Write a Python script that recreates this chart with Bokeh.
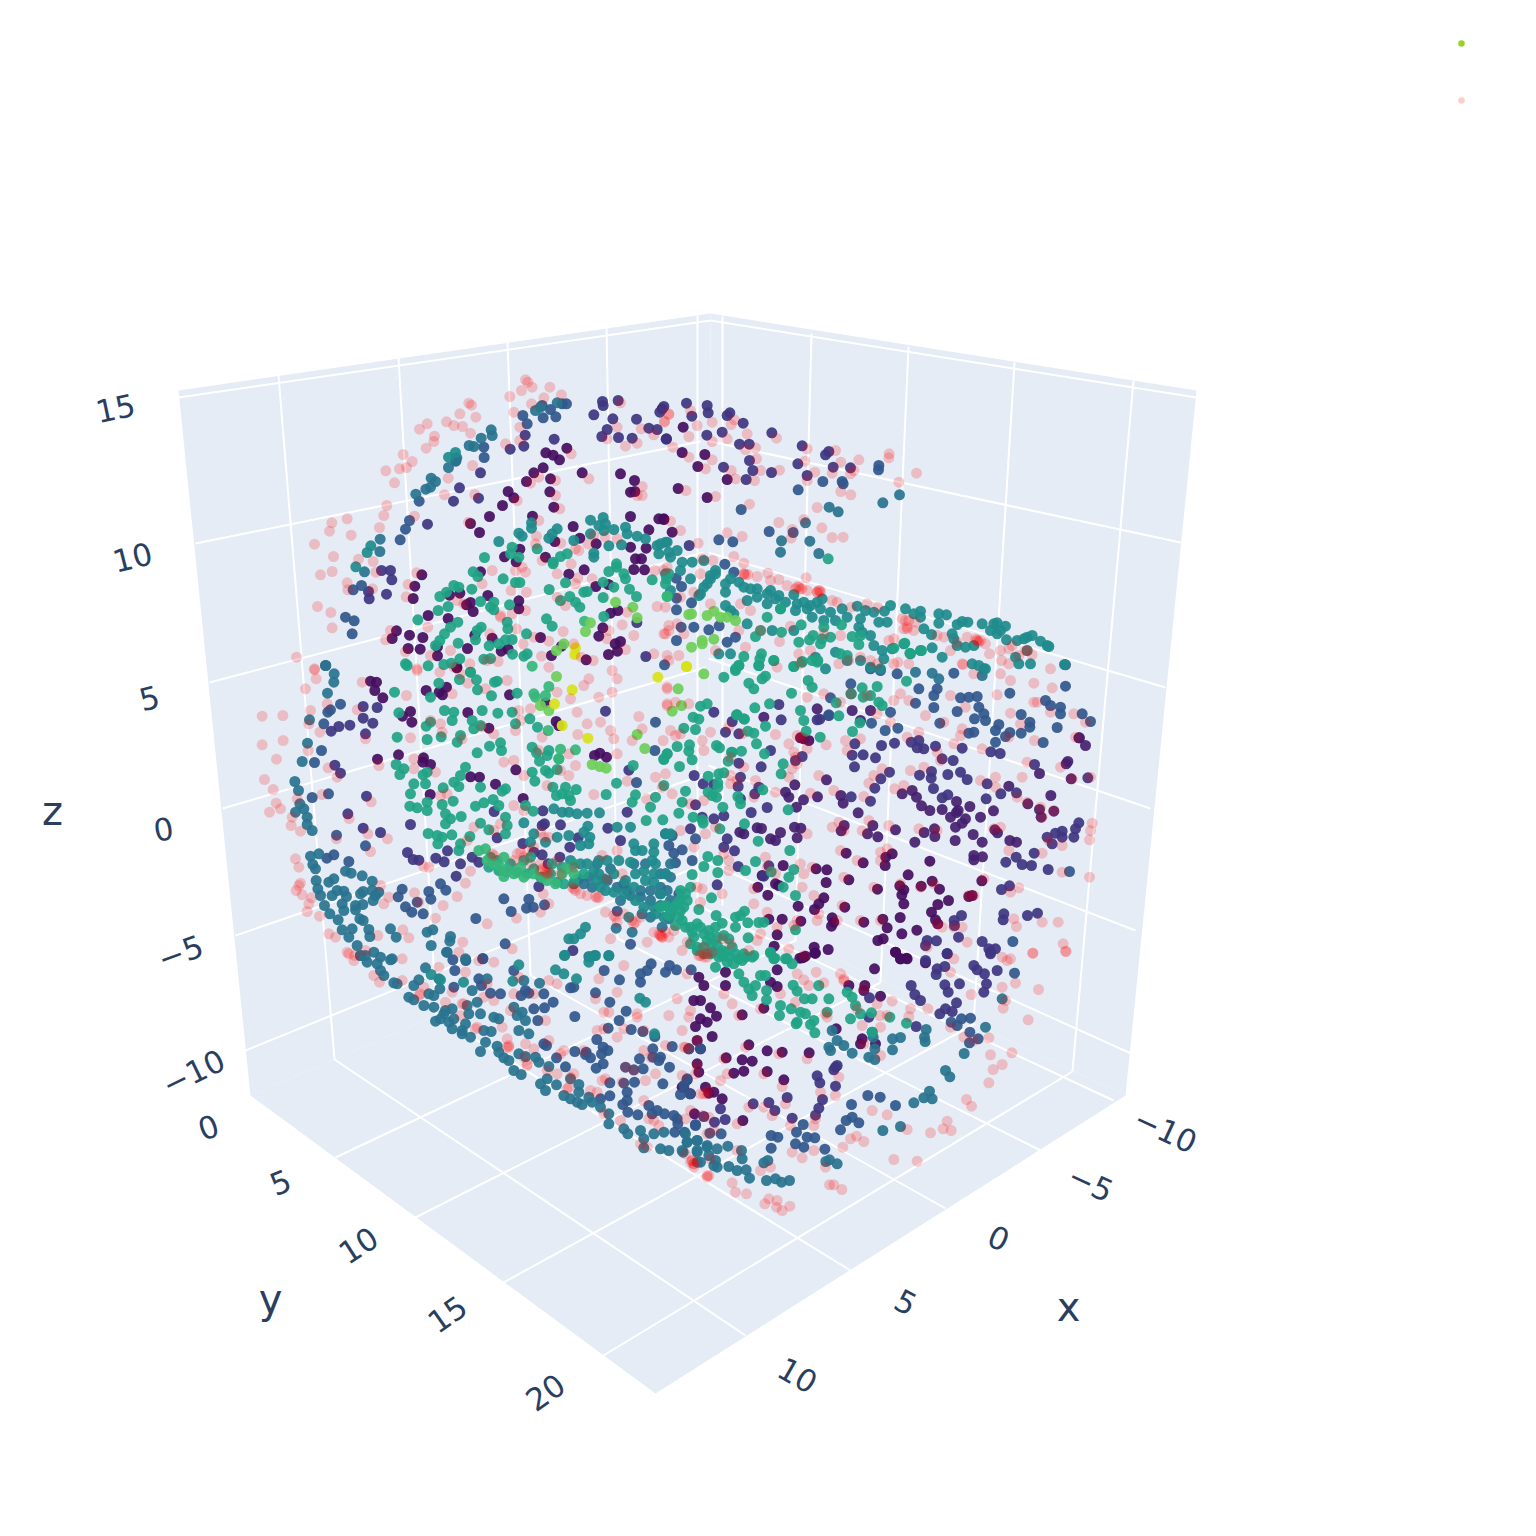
from bokeh.plotting import figure
from bokeh.embed import file_html
from bokeh.resources import INLINE
from bokeh.core.properties import value
import math

# Readings from the picture, per crop, at 3x crop scale
ORIGIN_A = (240, 370); ORIGIN_B = (660, 370); ORIGIN_C = (240, 660)
ORIGIN_D = (660, 660); ORIGIN_E = (280, 950); ORIGIN_F = (680, 950)

pink_a = [(855,28),(862,35),(875,50),(843,60),(928,50),(963,73),(808,78),(910,82),(685,98),(693,104),(658,130),(706,140),(618,154),(560,160),(537,176),(640,165),(666,168),(690,188),(582,197),(580,213),(557,233),(795,220),(838,210),(873,100),(820,125),(838,170),(488,252),(515,273),(498,291),(477,295),(436,301),(462,337),(696,285),(623,323),(612,373),(703,372),(439,405),(430,435),(320,445),(274,457),(267,482),(332,494),(222,521),(417,471),(522,437),(279,558),(354,566),(398,573),(275,603),(240,613),(406,605),(320,637),(322,658),(396,655),(231,708),(271,726),(275,772),(168,860),(222,895),(528,607),(503,642),(497,679),(1045,325),(992,250),(1205,348),(1190,375),(1205,375),(945,375),(958,415),(895,450),(945,330),(895,320),(870,338),(830,390),(1155,227),(1190,218),(1100,205),(1130,170),(1202,175),(1240,193),(1272,152),(1285,130),(1140,97),(684,455),(888,497),(885,520),(961,518),(992,580),(1005,535),(1015,540),(1043,520),(1060,495),(1130,505),(1095,500),(905,570),(855,605),(825,600),(845,590),(755,600),(950,610),(1012,622),(1243,600),(1270,600),(1280,590),(725,640),(812,660),(858,665),(950,680),(975,705),(1055,625),(1005,640),(1250,708),(1160,725),(650,690),(670,700),(780,735),(815,730),(855,720),(748,790),(780,740),(828,775),(968,783),(925,812),(880,800),(1145,763),(1180,795),(1105,780),(1100,805),(1155,837),(1240,850),(1275,790),(1285,780),(435,808),(450,780),(562,770),(495,843),(570,855),(630,840),(688,880),(740,870),(773,873),(848,820),(903,857),(925,890),(1000,820),(1058,870),(1022,860),(530,895),(1115,900)]
pink_b = [(25,132),(12,155),(110,165),(155,155),(90,120),(85,198),(155,213),(200,205),(222,148),(212,162),(260,190),(255,237),(285,232),(37,230),(85,260),(155,268),(135,295),(212,300),(225,325),(282,330),(300,300),(288,265),(357,299),(348,203),(440,235),(433,272),(463,305),(440,330),(515,308),(541,275),(595,268),(525,240),(580,300),(570,310),(686,250),(685,262),(715,335),(768,308),(571,373),(541,363),(76,360),(165,378),(267,401),(355,456),(430,447),(395,477),(392,503),(470,411),(484,472),(515,501),(548,500),(200,487),(245,498),(113,518),(60,480),(30,452),(220,558),(250,578),(437,622),(125,565),(157,570),(250,610),(262,612),(290,618),(322,608),(330,630),(355,627),(380,645),(405,655),(425,655),(440,660),(470,665),(478,660),(515,690),(530,695),(572,710),(620,700),(652,710),(725,745),(745,750),(765,755),(730,775),(760,780),(700,805),(685,810),(920,800),(950,810),(960,810),(975,820),(1020,840),(1045,835),(1055,825),(1095,840),(1115,853),(987,850),(908,882),(1023,870),(1045,880),(1075,855),(1170,895),(890,815),(870,840),(850,800),(830,795),(745,880),(712,875),(630,870),(600,860),(540,795),(490,790),(390,767),(357,813),(415,850),(450,840),(420,880),(350,890),(565,870),(25,765),(10,790),(50,760),(70,790),(20,855),(55,855),(25,870),(165,840),(235,780),(255,830),(300,780),(120,610),(60,680),(15,710),(100,665),(150,700),(240,700),(270,720),(415,650),(420,655),(410,648),(475,660),(470,665),(480,665),(250,610),(255,612),(950,810),(955,815),(945,805),(735,750),(740,775),(740,770),(1100,840)]
pink_c = [(65,167),(127,165),(65,253),(128,240),(108,296),(72,357),(98,387),(107,428),(87,455),(120,445),(152,495),(180,512),(155,470),(170,415),(195,85),(227,55),(222,28),(210,150),(260,130),(238,215),(205,190),(203,270),(263,322),(290,350),(245,402),(392,424),(326,474),(382,520),(288,535),(441,535),(390,573),(365,65),(350,148),(375,235),(415,315),(498,105),(510,232),(530,30),(598,35),(640,20),(682,68),(735,85),(800,60),(660,40),(600,190),(605,215),(635,100),(725,200),(665,235),(570,180),(520,295),(520,325),(585,335),(600,405),(620,400),(760,220),(790,305),(820,300),(850,345),(905,230),(895,270),(960,330),(1005,315),(1012,222),(985,280),(1040,190),(1080,185),(1010,155),(950,95),(990,115),(1030,75),(1045,55),(1075,110),(1115,95),(1130,55),(1280,85),(1280,135),(1195,168),(1205,205),(1120,235),(1110,210),(1175,240),(1130,280),(1160,362),(1060,402),(1218,415),(1245,350),(1275,340),(825,210),(835,150),(870,145),(840,180),(920,375),(985,345),(900,515),(925,530),(820,435),(850,450),(1110,835),(1220,845),(1130,785),(1130,570),(1145,640),(1085,585),(1095,755),(1100,655),(165,595),(175,620),(180,668),(167,690),(185,703),(213,712),(205,730),(200,753),(237,767),(175,675),(265,820),(285,830),(320,875),(343,885),(375,870),(412,825),(420,675),(445,710),(430,730),(522,697),(550,618),(565,620),(650,708),(608,735),(535,725),(585,773),(487,808),(505,832),(667,845),(675,668),(690,632),(740,790),(828,773),(815,865),(900,755),(925,730),(908,700),(1020,700),(1040,705),(1075,710),(1125,770),(1150,760),(1180,790),(1200,770),(1000,685),(1260,825),(1240,815),(950,600),(920,640),(900,610),(1000,620),(680,540),(700,500),(760,510),(780,490),(830,580),(860,570),(880,560),(910,530),(905,625),(915,635),(900,630),(925,635),(1005,690),(995,680),(1065,708),(1070,712),(1120,765),(1175,780),(1185,785),(1255,820),(1265,830),(755,580),(760,585),(840,575),(850,590),(960,640),(920,620),(870,610),(820,600)]
pink_d = [(20,80),(45,125),(20,130),(85,130),(30,210),(45,225),(8,240),(125,240),(130,270),(60,220),(150,215),(205,200),(245,220),(345,222),(410,225),(385,250),(497,253),(440,265),(400,275),(405,290),(410,310),(395,325),(385,350),(345,395),(280,410),(285,360),(210,370),(210,345),(250,320),(210,290),(230,360),(475,345),(450,398),(520,390),(610,408),(640,345),(625,368),(665,325),(750,330),(702,385),(730,375),(790,320),(840,300),(880,250),(830,275),(965,265),(900,225),(740,230),(775,215),(690,185),(795,165),(850,185),(915,140),(870,105),(905,205),(1010,103),(1050,158),(1050,60),(1120,68),(1175,82),(1120,125),(1130,125),(1170,155),(1240,160),(1275,185),(1080,190),(1045,230),(1122,240),(1245,230),(1100,305),(1085,350),(1005,350),(1070,410),(960,360),(1005,380),(1100,425),(1180,450),(1140,440),(1145,470),(1295,488),(1290,510),(1287,538),(1205,555),(1290,350),(1235,355),(1200,320),(1000,505),(1020,500),(1045,570),(1145,578),(1165,540),(1205,635),(1287,650),(1050,695),(1075,682),(1060,775),(1068,798),(1145,785),(1193,785),(920,845),(1208,850),(1215,872),(1117,878),(1025,890),(1050,895),(970,655),(925,705),(940,705),(880,800),(905,800),(800,860),(845,800),(830,790),(820,670),(780,680),(720,670),(640,680),(550,650),(455,620),(460,705),(475,760),(470,780),(410,780),(400,795),(385,865),(430,885),(530,780),(600,780),(660,780),(545,735),(590,600),(540,570),(625,480),(605,510),(685,495),(775,505),(830,510),(660,575),(680,565),(660,600),(550,510),(515,500),(535,485),(420,610),(430,640),(425,680),(315,590),(320,620),(345,640),(280,685),(205,630),(205,600),(110,680),(125,685),(185,700),(280,730),(320,755),(300,820),(290,840),(350,800),(265,870),(185,835),(120,725),(80,845),(40,810),(25,830),(65,870),(0,825),(100,560),(190,580),(165,500),(135,520),(60,510),(90,430),(35,400),(5,380),(130,420),(440,520),(440,110),(490,100),(540,125),(570,100),(620,105),(650,160),(700,120),(720,100),(745,120),(650,10),(700,10),(905,10),(1020,40),(940,40),(535,10),(560,270),(555,240),(600,235),(5,830),(15,815),(130,890),(140,880),(155,875),(115,885),(210,850),(130,860),(430,235),(420,230)]
pink_e = [(205,10),(220,30),(365,25),(280,75),(297,95),(365,90),(475,50),(430,110),(515,125),(415,135),(555,65),(535,5),(595,30),(640,35),(495,155),(550,160),(610,140),(640,150),(620,100),(540,195),(590,230),(665,230),(680,265),(690,180),(700,130),(715,80),(805,90),(830,100),(760,130),(795,210),(805,270),(760,295),(840,310),(740,340),(680,290),(730,320),(880,370),(930,420),(950,425),(850,300),(910,300),(1010,125),(955,85),(1030,45),(970,185),(985,185),(945,145),(1010,260),(970,235),(1030,235),(1070,190),(1090,240),(950,240),(1125,370),(1095,390),(1035,350),(1025,395),(1190,145),(1165,195),(1155,285),(1210,290),(1205,375),(1285,420),(1245,370),(1090,450),(1120,510),(1105,505),(1135,525),(1080,580),(1100,590),(1215,610),(1240,650),(1280,675),(1290,625),(1020,510),(970,490),(965,390),(975,385),(870,380),(830,370),(800,360),(1250,270),(1225,200),(1205,240),(1110,320),(1060,360),(1090,300),(585,235),(685,290),(740,345),(1240,640),(860,415),(1070,200),(1225,295),(1285,500),(420,130),(685,285),(735,280),(865,410),(1235,630),(545,160)]
pink_f = [(20,70),(130,130),(155,160),(30,180),(240,175),(175,195),(15,290),(130,325),(195,290),(295,310),(380,325),(250,370),(140,370),(305,408),(80,430),(70,430),(205,470),(315,460),(250,470),(275,495),(170,520),(330,525),(400,525),(335,605),(365,622),(400,600),(435,650),(270,650),(240,660),(85,675),(155,697),(165,725),(198,730),(253,760),(265,745),(290,750),(288,770),(305,780),(328,767),(447,703),(460,703),(484,717),(575,480),(620,493),(510,565),(528,557),(550,573),(487,590),(640,627),(710,632),(680,537),(750,547),(788,535),(812,540),(800,512),(858,447),(873,467),(925,397),(938,357),(965,342),(994,307),(930,313),(925,262),(880,270),(850,260),(1043,208),(968,173),(975,150),(1074,117),(1005,98),(965,110),(872,132),(742,175),(690,175),(685,198),(598,195),(635,152),(620,195),(600,230),(545,225),(600,315),(480,70),(490,90),(407,65),(350,70),(370,88),(430,97),(385,105),(300,130),(810,65),(820,25),(980,30),(1057,8),(1157,3),(810,230),(530,175),(590,160),(550,280),(465,435),(475,380),(420,425),(405,505),(40,640),(35,630),(80,680),(30,480),(65,495),(100,540),(80,550),(170,600),(50,345),(15,505),(60,430),(120,390),(80,20),(60,15),(345,155),(435,190),(440,200),(490,85),(550,115),(30,635)]

dark_a = [(1025,307),(1140,310),(1182,330),(1170,365),(1183,363),(940,410),(928,364),(930,325),(908,292),(880,307),(858,333),(803,363),(820,382),(786,405),(747,438),(876,437),(690,459),(717,486),(957,268),(938,254),(916,247),(979,233),(1170,438),(1255,445),(1270,447),(1225,478),(998,468),(943,513),(1018,503),(1067,520),(1170,530),(1217,533),(1185,565),(1203,565),(1180,597),(1212,598),(1031,598),(985,611),(915,560),(838,536),(792,559),(827,574),(720,604),(544,613),(523,647),(518,684),(1066,648),(1104,642),(835,691),(835,715),(742,675),(658,668),(627,674),(690,696),(678,703),(698,723),(563,735),(623,744),(468,781),(455,804),(507,794),(547,801),(503,834),(539,836),(591,829),(591,856),(703,794),(755,803),(681,834),(782,842),(803,836),(900,801),(963,827),(933,855),(1037,868),(649,890),(1132,720),(1110,728),(1087,772),(1075,797),(1124,820),(1140,813),(1131,842),(1104,852)]
dark_b = [(53,354),(140,381),(65,246),(18,205),(10,445),(35,485),(200,327),(133,252),(112,288),(68,170),(5,115)]
dark_c = [(390,62),(408,65),(403,90),(427,112),(557,90),(596,95),(618,80),(606,103),(649,22),(807,103),(915,127),(947,183),(955,195),(682,156),(745,203),(510,153),(486,167),(514,185),(549,292),(547,305),(570,312),(690,349),(717,350),(765,371),(826,328),(411,296),(474,283),(569,402),(848,414),(1078,278),(1062,285),(1098,290)]
dark_d = [(467,625),(499,628),(497,666),(565,658),(651,686),(674,615),(695,580),(676,590),(557,578),(608,607),(808,602),(743,643),(718,676),(730,688),(724,703),(730,730),(815,662),(837,686),(864,720),(832,732),(813,755),(782,677),(964,661),(935,705),(925,708),(667,776),(719,771),(680,802),(610,785),(724,820),(769,809),(668,835),(652,840),(705,875),(720,895),(738,893),(825,778),(832,790),(515,772),(520,785),(513,797),(553,740),(490,712),(475,730),(462,747),(413,737),(421,782),(503,867),(461,860),(463,878),(430,890),(418,893),(368,615),(345,670),(355,675),(365,776),(325,776),(350,823),(341,857),(322,704),(292,680),(305,645),(430,235),(445,240),(420,232)]
dark_f = [(582,55),(735,37),(660,25),(680,25),(645,5),(800,10),(375,17),(365,22),(405,8),(290,58),(290,108),(270,95),(505,105),(553,105),(550,120),(467,235),(545,265),(540,280),(585,280),(600,137),(250,173),(185,193),(135,105),(70,105),(55,80),(135,65),(40,150),(60,150),(90,172),(108,197),(60,205),(80,215),(45,228),(50,270),(95,258),(205,283),(25,295),(60,295),(260,301),(305,305),(386,307),(137,322),(185,328),(215,332),(50,340),(55,365),(160,368),(190,362),(260,363),(20,388),(10,410),(75,410),(100,425),(85,428),(30,430),(125,445),(310,388),(5,410),(187,510),(42,490)]

purple_d = [(498,358),(541,405),(548,428),(593,457),(471,409),(429,418),(403,373),(385,410),(375,395),(408,440),(290,502),(303,504),(250,520),(238,515),(360,516),(345,540),(330,535),(410,532),(421,503),(402,500),(551,495),(542,511),(637,495),(705,508),(621,520),(652,529),(763,545),(791,516),(822,505),(823,528),(884,540),(938,522),(965,545),(940,585),(940,598),(966,589),(1048,540),(1068,545),(1003,508),(1011,517),(885,500),(905,488),(915,475),(870,470),(888,456),(893,450),(808,450),(845,447),(783,436),(755,390),(768,410),(725,400),(888,423),(928,438),(960,470),(999,451),(1102,430),(1137,447),(1142,470),(1180,452),(1171,405),(1045,377),(1217,310),(1222,303),(1232,355),(1137,339),(1257,232),(1275,255),(1255,232),(600,180),(575,150),(630,150),(470,145),(310,170)]

indigo_a = [(1086,93),(1088,105),(1133,90),(1060,133),(1117,145),(1188,146),(1100,177),(1084,198),(1134,201),(1175,203),(1225,173),(1250,177),(1277,206),(1270,108),(1258,125),(850,227),(809,236),(854,194),(941,206),(720,307),(657,352),(714,383),(639,392),(561,461),(454,628),(450,600),(423,600),(438,671),(386,685),(384,663),(1216,858),(1189,756)]
indigo_b = [(78,98),(140,105),(143,127),(94,137),(200,135),(208,127),(248,158),(139,194),(185,185),(237,221),(266,221),(189,290),(267,270),(277,300),(257,327),(334,187),(333,306),(425,226),(412,280),(440,315),(495,253),(505,243),(518,290),(570,292),(86,525)]
indigo_c = [(368,138),(410,141),(368,173),(397,188),(375,220),(328,194),(295,198),(272,212),(283,314),(300,338),(378,407),(322,460),(368,503),(420,516),(510,492),(761,453),(907,451),(960,493),(905,495),(912,490),(770,532),(847,549),(621,571),(501,576),(518,597),(535,599),(586,593),(611,604),(660,610),(647,647),(695,590),(715,605),(798,634),(880,575),(905,583),(923,610),(958,590),(1013,532),(988,560),(895,678),(1102,503),(1160,455),(1095,152),(1140,540),(1165,329),(997,870)]
indigo_d = [(1122,312),(1068,397),(1021,400),(977,415),(980,370),(920,357),(862,342),(813,333),(812,353),(777,344),(819,384),(845,412),(862,403),(900,335),(878,300),(845,295),(905,263),(790,265),(825,257),(775,240),(770,262),(752,245),(687,335),(661,355),(643,383),(630,422),(572,409),(645,292),(608,283),(575,284),(582,319),(583,250),(663,255),(702,248),(240,350),(233,378),(295,380),(283,400),(240,415),(320,441),(272,456),(190,466),(160,475),(125,470),(105,433),(160,155),(215,183),(235,220),(195,215),(90,505),(200,535),(190,560),(222,571),(233,618),(310,647),(325,616),(170,673),(101,345),(128,370),(160,372),(425,288),(405,300),(302,319),(235,308),(330,270),(362,178),(355,132),(470,178),(478,176),(505,165),(1036,605),(1067,590),(1085,612),(1113,615),(1121,578),(1175,550),(1160,530),(1185,518),(1205,512),(1205,530),(1240,530),(1245,505),(1255,487),(1163,627),(1023,687),(1047,676),(1030,760),(1028,778),(1101,765),(1131,758),(903,765),(881,780),(882,795),(894,830),(965,843),(985,865),(1005,865),(990,880),(860,879),(795,900),(800,840),(795,855),(828,841),(1282,352),(991,274),(1019,279)]
indigo_f = [(767,72),(770,55),(793,48),(692,105),(703,132),(720,150),(793,103),(803,125),(837,100),(778,190),(795,175),(815,183),(828,157),(707,228),(567,142),(465,350),(460,358),(470,345),(410,376),(418,397),(465,407),(426,447),(415,473),(405,494),(320,441),(218,460),(265,456),(283,480),(335,503),(120,475),(102,515),(134,507),(70,498),(880,45),(890,58),(912,70),(950,60),(930,5),(918,100),(910,125),(565,200)]

blue_a = [(860,160),(847,135),(908,142),(946,139),(905,105),(978,100),(965,100),(930,117),(730,230),(731,261),(646,272),(536,392),(507,450),(495,476),(479,508),(363,645),(341,751),(335,790),(315,740),(338,658),(1272,883),(255,885)]
blue_b = [(413,358),(487,333),(545,333),(548,340),(655,285),(654,298),(242,417),(175,508),(217,514),(326,483),(398,486),(193,581),(220,605),(47,623),(63,648),(48,683),(93,697),(48,718),(62,770),(100,770),(145,778),(176,766),(48,810),(225,800),(200,815)]
blue_c = [(300,131),(270,148),(262,155),(250,190),(264,400),(215,411),(288,524),(375,556),(243,270),(222,306),(325,603),(280,583),(259,593),(600,670),(616,689),(565,693),(571,716),(530,725),(485,686),(473,709),(495,739),(514,755),(548,760),(706,774),(790,715),(812,753),(865,716),(858,743),(878,740),(912,733),(794,850),(727,895),(1130,752),(1170,851),(1245,185),(1243,270),(1188,366)]
blue_d = [(1215,13),(1215,77),(1155,120),(1170,135),(1200,140),(1200,160),(1265,160),(1290,183),(1190,201),(1108,185),(1108,200),(1082,162),(1082,218),(1148,246),(1048,216),(1035,228),(1015,192),(1005,210),(1005,245),(1048,98),(950,108),(900,112),(925,110),(955,140),(970,160),(975,180),(942,175),(890,153),(820,141),(838,188),(765,128),(820,105),(830,85),(775,85),(710,40),(660,30),(630,25),(880,38),(940,215),(925,218),(712,203),(674,210),(633,188),(690,155),(505,163),(510,112),(571,70),(572,100),(1057,843),(1227,633),(0,700),(15,640),(45,607),(95,600),(65,568),(105,535),(15,520),(35,525),(25,555),(40,578),(55,700)]
blue_e = [(500,5),(517,28),(556,30),(607,24),(523,60),(700,60),(595,85),(603,105),(520,110),(630,128),(660,130),(735,120),(745,128),(722,135),(818,155),(790,130),(792,172),(760,175),(772,210),(880,110),(870,112),(945,127),(988,155),(883,198),(1017,88),(971,60),(1080,70),(1100,60),(1112,40),(1080,95),(1155,65),(1167,45),(1188,58),(1232,58),(1037,182),(1016,210),(983,233),(1052,237),(1087,243),(1123,258),(1175,288),(1117,295),(1117,320),(1140,320),(1135,330),(1225,295),(1260,295),(949,267),(968,290),(982,300),(963,310),(917,305),(915,312),(883,303),(930,322),(968,340),(947,353),(855,349),(790,280),(798,285),(828,322),(1077,325),(1035,350),(1060,358),(1088,355),(1167,350),(1147,400),(1220,385),(1210,405),(1200,432),(1228,430),(1030,398),(1062,395),(1040,425),(1040,450),(1027,462),(1042,485),(1072,493),(988,397),(988,436),(960,445),(1105,465),(1115,490),(1130,480),(1152,490),(1180,495),(1192,520),(1190,505),(1212,545),(1245,522),(1183,545)]
blue_f = [(1002,68),(843,205),(870,203),(812,215),(830,225),(868,245),(893,265),(867,277),(562,435),(599,440),(513,462),(645,465),(535,517),(515,500),(497,510),(480,538),(368,522),(348,545),(380,560),(403,562),(345,580),(370,590),(272,555),(292,560),(272,593),(433,596),(45,525),(88,548),(122,550)]

deep_teal_a = [(950,97),(885,120),(900,110),(722,203),(700,228),(686,225),(755,195),(752,178),(649,262),(645,270),(624,291),(572,323),(585,333),(570,350),(556,356),(526,371),(419,506),(418,543),(372,604)]
deep_teal_b = [(506,410),(533,424),(435,457),(363,511),(448,512),(360,545),(475,549),(667,397),(717,373)]
deep_teal_c = [(256,15),(281,40),(280,65),(261,98),(207,178),(201,248),(185,303),(174,390),(163,363),(178,430),(190,445),(165,455),(200,470),(200,492),(215,510),(210,587),(235,580),(217,612),(225,625),(227,660),(232,685),(240,705),(252,735),(268,760),(293,778),(305,808),(335,805),(325,830),(350,855),(368,780),(358,775),(385,807),(388,828),(400,875),(375,885),(420,890),(455,895),(360,885),(265,665),(280,655),(290,690),(275,705),(310,692),(318,708),(305,730),(310,750),(345,735),(345,748),(367,732),(368,693),(360,700),(395,662),(395,690),(415,695),(405,705),(398,720),(315,632),(332,638),(365,646),(450,805),(467,830),(560,815),(577,808),(630,828),(628,842),(572,855),(618,875),(675,895),(1045,888),(1062,885),(1105,885),(1127,803),(1175,815),(1100,660),(1130,680),(1160,690),(1200,690),(1230,690),(1260,680),(1280,690),(1290,720),(1260,735),(1230,720),(1200,710),(1170,705),(1140,720),(1205,760),(1230,770),(1290,760),(1265,800),(1285,775),(1150,670),(1180,610),(1215,610),(1290,650),(1260,640),(1290,610),(1070,610),(1110,625),(1045,650),(1015,655),(1030,670),(1055,680),(1000,670)]
deep_teal_d = [(970,25),(965,45),(815,38),(835,55),(765,35)]
deep_teal_e = [(435,52),(400,105),(415,88),(385,140),(400,148),(430,165),(445,130),(460,135),(478,115),(475,85),(460,170),(495,180),(515,175),(480,205),(465,212),(505,215),(515,235),(545,250),(555,220),(570,260),(560,165),(565,190),(575,120),(590,155),(600,190),(610,240),(632,243),(640,200),(655,205),(545,240),(520,205),(490,190),(700,170),(710,195),(725,185),(735,210),(715,240),(745,250),(615,275),(600,303),(650,287),(655,305),(670,322),(685,330),(715,310),(735,318),(700,360),(722,372),(765,320),(775,335),(805,348),(780,400),(795,420),(800,385),(828,403),(850,435),(870,445),(890,455),(905,462),(935,455),(870,385),(895,402),(895,425),(925,440),(960,470),(985,520),(1030,535),(1042,550),(1080,540),(1090,565),(1090,592),(1120,550),(1150,545),(1140,595),(1165,600),(1205,600),(1220,575),(1250,570),(1250,600),(1280,585),(1285,615),(1250,635),(985,490),(240,15),(260,35),(290,40),(330,28),(300,60),(310,75),(340,97),(350,100),(620,85),(730,90),(777,98)]
deep_teal_f = [(851,309),(915,230),(965,145),(795,360),(808,379),(747,422),(730,442),(755,445),(700,457),(607,540),(737,237),(732,260),(734,273),(660,261),(636,265),(636,298),(450,300),(455,240),(470,270),(445,290),(490,285),(515,308),(583,295),(565,320),(583,327),(575,245),(578,260),(436,633),(447,628),(470,640),(250,637),(262,630),(183,600),(185,625),(145,648),(170,660),(197,658),(207,683),(258,690),(285,685),(303,695),(327,690),(105,630),(110,650),(80,590),(110,595),(50,570),(50,605),(142,587),(15,550),(20,575),(8,605),(60,635),(100,645),(660,528)]

teal_a = [(645,246),(624,260),(391,526),(380,546),(346,589),(1050,449),(1088,441),(1075,465),(1090,480),(1120,477),(1155,470),(1160,490),(1050,490),(1095,460),(1000,510),(1190,497),(1215,505),(873,457),(873,473),(835,488),(845,497),(950,475),(935,490),(925,503),(775,513),(1250,525),(1280,515),(1105,526),(1143,523),(1060,548),(1060,560),(1255,550),(1285,545)]
teal_b = [(15,515),(0,520),(50,540),(30,560),(65,575),(95,575),(130,570),(165,600),(150,615),(140,640),(120,670),(210,625),(195,665),(195,640),(235,635),(250,650),(270,655),(290,655),(330,660),(320,670),(355,675),(345,685),(290,680),(260,690),(320,700),(400,672),(375,695),(410,700),(430,695),(485,685),(470,695),(450,705),(405,720),(360,715),(440,715),(480,715),(510,725),(545,715),(590,707),(560,740),(525,750),(490,750),(455,740),(640,725),(615,720),(690,705),(672,722),(735,715),(760,730),(780,722),(780,740),(835,730),(858,733),(835,758),(890,762),(905,753),(922,755),(965,760),(1000,760),(1010,757),(1035,767),(990,780),(1020,780),(1010,790),(1038,808),(1070,810),(1090,805),(1100,800),(1115,795),(1140,812),(1160,825),(1165,828),(600,745),(595,770),(605,785),(630,795),(655,755),(680,755),(790,775),(813,792),(730,820),(780,840),(750,850),(695,835),(640,825),(665,840),(880,805),(875,790),(890,825),(915,830),(940,825),(815,832),(845,860),(935,880),(955,885),(975,895),(1065,860),(1075,880),(1110,880),(1100,840),(1212,882),(670,865),(600,870),(630,890),(660,895),(525,845),(560,870),(465,860),(495,895),(400,780),(335,780),(210,720),(260,760),(210,850),(175,850),(195,705),(220,730),(130,650),(90,625),(60,600),(15,610),(30,660),(115,675),(150,625),(165,610)]
teal_c = [(1035,800),(1020,820),(1000,835),(985,835),(972,885),(940,445),(965,455),(985,455),(1010,460),(1040,458),(1077,457),(1042,497),(1030,515),(1048,530),(1045,550),(1020,555),(950,530),(985,525),(915,545),(880,520),(850,487),(870,545),(1100,600),(1075,600),(1040,610),(1020,610),(990,600),(1075,640),(1060,632),(1090,655),(1120,640),(1155,660),(1135,600),(1180,550),(1185,570),(1205,570),(1240,550),(1240,575),(1235,600),(1245,610),(1275,640),(1210,632),(1240,640),(1185,640),(1150,700),(1120,695),(1095,690),(1070,660),(1080,680),(1180,680),(1215,660),(1240,665),(1260,700),(1210,740),(1240,740),(1280,735),(1270,770),(1245,760),(1185,720),(1165,770),(1130,500),(1170,500),(1170,605),(1275,520),(1290,520)]
teal_e = [(452,72),(480,88),(697,92),(549,95),(715,43),(825,58),(850,70),(888,85),(853,14),(925,35),(945,15),(985,16),(930,20),(1078,143),(1095,155),(1122,250)]

sea_a = [(890,535),(815,530),(810,550),(835,560),(732,561),(960,558),(980,550),(938,575),(938,580),(698,604),(712,618),(788,625),(825,636),(838,636),(1128,580),(1128,590),(1105,603),(1150,610),(1155,625),(1235,628),(1285,610),(1278,625),(1275,640),(975,637),(1040,663),(1030,665),(1088,635),(1120,650),(1167,656),(1088,681),(1188,678),(926,657),(960,690),(988,678),(1005,695),(1018,710),(640,645),(655,650),(618,665),(598,678),(694,656),(720,693),(623,708),(593,720),(760,695),(750,710),(760,718),(807,703),(1090,738),(532,748),(800,755),(802,775),(918,745),(935,767),(652,755),(630,770),(722,770),(710,780),(612,790),(598,810),(585,825),(653,818),(705,808),(746,826),(815,807),(795,808),(775,820),(816,851),(858,790),(850,857),(860,850),(658,865),(632,878),(610,882),(730,866),(750,864),(495,880),(500,885),(563,886),(690,905)]
sea_b = [(503,565),(600,795),(575,798),(595,822),(560,855),(540,850),(490,770),(422,763),(363,785),(510,800),(485,805),(480,820),(458,795),(447,808),(415,815),(455,870),(425,873),(400,888),(472,870),(340,870),(303,850),(298,865),(295,885),(235,885),(225,895),(250,858),(285,798),(300,780),(320,740),(360,715),(543,763),(700,833),(733,818),(748,848),(783,840)]
sea_c = [(462,95),(475,157),(470,230),(570,110),(595,68),(612,150),(640,155),(635,180),(570,185),(557,197),(560,237),(602,229),(650,245),(660,225),(695,180),(720,195),(700,205),(725,150),(772,158),(657,57),(690,35),(708,58),(711,88),(762,65),(770,62),(753,106),(830,98),(815,155),(825,190),(868,175),(891,200),(710,277),(747,257),(780,247),(783,270),(467,312),(490,325),(478,342),(548,343),(560,335),(675,320),(660,345),(640,365),(655,378),(608,382),(520,370),(555,370),(510,400),(508,437),(530,442),(560,425),(560,450),(605,432),(638,422),(705,437),(730,427),(758,417),(775,435),(615,460),(630,475),(662,468),(615,490),(720,488),(745,508),(795,470),(800,495),(795,520),(563,519),(590,525),(605,530),(634,523),(688,528),(592,550),(660,550),(655,570),(720,380),(795,385),(785,392),(875,260),(888,277),(897,302),(925,270),(920,285),(955,295),(915,330),(925,338),(950,327),(875,335),(883,362),(937,380),(948,405),(975,380),(1007,387),(965,400),(985,405),(990,420),(855,435),(878,452),(1097,402),(1128,368),(1178,315),(1185,403),(1175,425),(1270,375),(1245,410),(1230,440),(1280,280),(1270,297),(1217,480),(1267,478),(750,590),(770,600),(810,610),(830,635),(860,640),(880,625),(900,650),(930,640),(950,665),(970,670),(1000,665),(1030,640),(1000,610),(965,620),(935,610),(850,600),(870,590),(775,630),(745,620)]
sea_d = [(650,78),(605,82),(630,105),(608,110),(655,125),(665,135),(738,62),(572,100),(527,127),(535,166),(598,187),(576,213),(437,212),(479,230),(430,180),(420,150),(455,80),(443,60),(393,98),(327,130),(280,85),(283,142),(250,175),(228,163),(315,197),(262,212),(280,218),(288,250),(243,272),(215,275),(203,302),(312,280),(368,310),(362,340),(307,388),(232,408),(240,430),(187,440),(143,347),(175,340),(190,337),(172,367),(172,380),(143,395),(155,405),(168,410),(75,392),(65,425),(55,458),(98,470),(125,478),(128,488),(178,505),(252,490),(293,542),(388,570),(383,448),(285,603),(172,600),(142,588),(130,618),(172,636),(95,642),(255,630),(332,634),(400,627),(385,650),(368,680),(405,705),(153,712),(115,747),(167,765),(185,788),(225,770),(240,765),(252,752),(262,787),(295,786),(310,785),(405,808),(263,832),(330,875),(343,893),(380,895),(168,255),(177,262),(213,275),(87,253),(85,272),(95,298),(57,318),(20,280),(10,295),(50,258),(70,203),(105,207),(98,170),(115,176),(120,137),(140,130),(230,163),(252,176),(265,68),(315,47),(305,55),(190,50),(235,15),(225,30),(295,15),(340,0),(400,18),(425,5),(470,5),(0,740),(15,735),(40,740),(60,690),(90,680),(75,700),(60,715),(80,720),(60,750),(25,765),(65,780),(45,795),(90,800),(120,800),(145,810),(170,830),(190,825),(140,840),(185,870),(110,860),(155,850),(195,875),(225,880),(250,880),(280,885),(225,800),(255,890),(130,880),(90,850),(100,830),(110,790),(130,820),(150,830),(165,800),(205,835),(170,855),(215,860),(130,860),(150,880),(175,890),(205,890),(235,895),(95,815),(75,800),(55,770),(30,745),(70,740),(50,730)]
sea_f = [(338,104),(350,122),(415,105),(372,145),(395,145),(445,145),(440,185),(500,125),(515,140),(525,165),(510,205),(540,190),(573,187),(628,200),(678,218),(575,245),(300,165),(297,195),(332,175),(360,185),(350,215),(375,190),(347,220),(400,210),(390,222),(403,247),(258,120),(258,148),(315,25),(335,40),(280,25),(270,8),(215,135),(205,115),(190,95),(225,105),(175,70),(140,35),(105,50),(125,15),(160,40),(185,30),(215,20),(240,75),(255,75),(50,0),(100,5)]

green_a = [(875,887),(1032,752),(1280,678)]
green_b = [(20,677)]
green_c = [(740,600),(760,610),(780,620),(800,630),(820,640),(850,650),(715,570),(735,565),(790,590),(840,620),(880,640),(920,660),(945,670),(980,625),(1000,640),(790,648),(905,650),(965,640),(880,100),(885,110),(915,105),(925,78),(923,210),(960,266),(1005,268),(955,295)]

lime_a = [(1050,757),(1035,783),(1125,695),(1177,710),(1190,742),(948,840),(970,820)]
lime_b = [(85,732),(93,730),(140,735),(160,722),(180,740),(200,740),(225,750),(160,806),(125,810),(125,820),(93,830)]
lime_c = [(948,48),(900,135),(925,150),(1055,312),(1078,318),(1097,323),(1190,222),(1213,264)]
lime_d = [(53,85),(35,152),(63,135),(130,40)]

yellow_a = [(1005,832),(1003,852)]
yellow_b = [(78,888)]
yellow_c = [(995,88),(1042,233),(1252,50),(942,130),(965,195)]
yellow_d = [(78,18)]

# Axis ticks and titles
z_ticks = ["15", "10", "5", "0", "\u22125", "\u221210"]
y_ticks = ["0", "5", "10", "15", "20"]
x_ticks = ["\u221210", "\u22125", "0", "5", "10"]
z_tick_x = [115, 132, 149, 163, 180, 193]; z_tick_y = [408, 557, 698, 829, 952, 1072]
z_tick_deg = [12, 14, 14, 10, 20, 26]
y_tick_x = [208, 280, 358, 447, 545]; y_tick_y = [1127, 1182, 1245, 1314, 1392]
y_tick_deg = [20, 22, 33, 35, 35]
x_tick_x = [1165, 1090, 998, 905, 797]; x_tick_y = [1130, 1183, 1238, 1302, 1375]
x_tick_deg = [-25, -25, -25, -28, -30]

# Box faces and grid, in projected chart units
floor_x = [250, 708, 1125, 655]; floor_y = [1095, 898, 1095, 1393]
left_wall_x = [178, 710, 708, 250]; left_wall_y = [390, 313, 898, 1095]
right_wall_x = [710, 1196, 1125, 708]; right_wall_y = [313, 390, 1095, 898]
grid_x = [
    [178,710],[710,1196],
    [195,700],[209,703],[222,705],[235,707],[245,707],
    [705,1180],[708,1165],[708,1150],[708,1135],[708,1135],
    [278,334],[398,436],[507,530],[606,617],[697,697],
    [722,722],[811,795],[908,880],[1014,973],[1133,1072],
    [334,745],[436,850],[530,945],[617,1040],[697,1113],
    [335,795],[415,880],[503,973],[603,1072],
]
grid_y = [
    [397,320],[320,397],
    [543,441],[682,552],[808,667],[935,773],[1050,862],
    [440,542],[552,687],[658,808],[765,930],[862,1055],
    [375,1059],[357,1015],[341,975],[327,938],[315,905],
    [316,905],[333,940],[346,982],[362,1024],[380,1071],
    [1059,1335],[1015,1270],[975,1208],[938,1150],[905,1100],
    [1157,940],[1217,982],[1282,1024],[1355,1071],
]


def place(origin, readings):
    return [origin[0] + r[0] / 3 for r in readings], [origin[1] + r[1] / 3 for r in readings]


def gather(*pairs):
    xs, ys = [], []
    for origin, readings in pairs:
        a, b = place(origin, readings)
        xs += a
        ys += b
    return xs, ys


p = figure(width=1520, height=1520, x_range=(0, 1520), y_range=(1520, 0),
           output_backend="svg", toolbar_location=None, min_border=0)
p.axis.visible = False
p.grid.visible = False
p.outline_line_color = None
p.background_fill_color = "white"

face = "#e5ecf6"
p.patch(floor_x, floor_y, fill_color=face, line_color=None)
p.patch(left_wall_x, left_wall_y, fill_color=face, line_color=None)
p.patch(right_wall_x, right_wall_y, fill_color=face, line_color=None)
p.multi_line(grid_x, grid_y, line_color="white", line_width=2)

series = [
    ("#440d5e", [(ORIGIN_A, dark_a), (ORIGIN_B, dark_b), (ORIGIN_C, dark_c), (ORIGIN_D, dark_d), (ORIGIN_F, dark_f)]),
    ("#45206f", [(ORIGIN_D, purple_d)]),
    ("#3f3580", [(ORIGIN_A, indigo_a), (ORIGIN_B, indigo_b), (ORIGIN_C, indigo_c), (ORIGIN_D, indigo_d), (ORIGIN_F, indigo_f)]),
    ("#31578c", [(ORIGIN_A, blue_a), (ORIGIN_B, blue_b), (ORIGIN_C, blue_c), (ORIGIN_D, blue_d), (ORIGIN_E, blue_e), (ORIGIN_F, blue_f)]),
    ("#29738e", [(ORIGIN_A, deep_teal_a), (ORIGIN_B, deep_teal_b), (ORIGIN_C, deep_teal_c), (ORIGIN_D, deep_teal_d), (ORIGIN_E, deep_teal_e), (ORIGIN_F, deep_teal_f)]),
    ("#208b8c", [(ORIGIN_A, teal_a), (ORIGIN_B, teal_b), (ORIGIN_C, teal_c), (ORIGIN_E, teal_e)]),
    ("#21a386", [(ORIGIN_A, sea_a), (ORIGIN_B, sea_b), (ORIGIN_C, sea_c), (ORIGIN_D, sea_d), (ORIGIN_F, sea_f)]),
    ("#35b779", [(ORIGIN_A, green_a), (ORIGIN_B, green_b), (ORIGIN_C, green_c)]),
    ("#6ece58", [(ORIGIN_A, lime_a), (ORIGIN_B, lime_b), (ORIGIN_C, lime_c), (ORIGIN_D, lime_d)]),
    ("#d8e219", [(ORIGIN_A, yellow_a), (ORIGIN_B, yellow_b), (ORIGIN_C, yellow_c), (ORIGIN_D, yellow_d)]),
]
for colour, pairs in series:
    xs, ys = gather(*pairs)
    p.scatter(xs, ys, size=11, fill_color=colour, line_color=None, fill_alpha=0.92)

xs, ys = gather((ORIGIN_A, pink_a), (ORIGIN_B, pink_b), (ORIGIN_C, pink_c), (ORIGIN_D, pink_d), (ORIGIN_E, pink_e), (ORIGIN_F, pink_f))
p.scatter(xs, ys, size=11, fill_color="red", line_color=None, fill_alpha=0.2)

# Legend swatches (their labels are blank in the reference)
p.scatter([1461], [43], size=6.5, fill_color="#9ad325", line_color=None)
p.scatter([1461], [100], size=6.5, fill_color="red", line_color=None, fill_alpha=0.2)

ink = "#2a3f5f"
font = value("DejaVu Sans")


def labels(xs, ys, texts, degs, size="31px"):
    p.text(xs, ys, text=texts, angle=[math.radians(d) for d in degs], text_align="center", text_baseline="middle",
           text_color=ink, text_font=font, text_font_size=value(size))


labels(z_tick_x, z_tick_y, z_ticks, z_tick_deg)
labels(y_tick_x, y_tick_y, y_ticks, y_tick_deg)
labels(x_tick_x, x_tick_y, x_ticks, x_tick_deg)
labels([1068], [1306], ["x"], [0], "40px")
labels([270], [1298], ["y"], [0], "40px")
labels([52], [810], ["z"], [0], "40px")

open("out.html", "w").write(file_html(p, INLINE))
